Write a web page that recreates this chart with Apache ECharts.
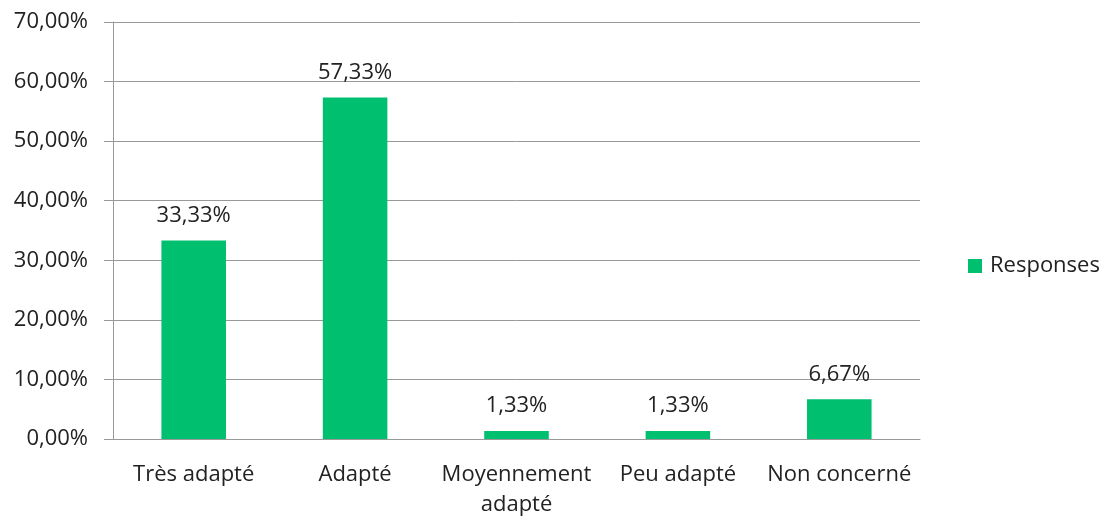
<!DOCTYPE html>
<html>
<head>
<meta charset="utf-8">
<script src="https://cdn.jsdelivr.net/npm/echarts@6/dist/echarts.min.js"></script>
<style>
html,body{margin:0;padding:0;background:#fff;}
#chart{width:1101px;height:520px;}
</style>
</head>
<body>
<div id="chart"></div>
<script>
var categories = ['Très adapté', 'Adapté', 'Moyennement adapté', 'Peu adapté', 'Non concerné'];
var responses = [33.33, 57.33, 1.33, 1.33, 6.67];
var seriesName = 'Responses';

function pct(v) {
    return v.toFixed(2).replace('.', ',') + '%';
}

(function () {
    var myChart = echarts.init(document.getElementById('chart'));
    var font = '"Open Sans", sans-serif';

    var option = {
        backgroundColor: '#fff',
        textStyle: {fontFamily: font},
        grid: {left: 113, right: 181, top: 22, bottom: 81},
        legend: {
            data: [seriesName],
            orient: 'vertical',
            left: 963,
            top: 250,
            itemWidth: 14,
            itemHeight: 14,
            icon: 'rect',
            textStyle: {fontSize: 22, color: '#222', fontFamily: font, padding: [0, 0, 0, 3]}
        },
        xAxis: {
            type: 'category',
            data: categories,
            axisLine: {lineStyle: {color: '#999'}},
            axisTick: {length: 9, lineStyle: {color: '#999'}},
            axisLabel: {
                color: '#222',
                fontSize: 22,
                margin: 21,
                lineHeight: 30,
                interval: 0,
                formatter: function (v) { return v.replace('Moyennement ', 'Moyennement\n'); }
            }
        },
        yAxis: {
            type: 'value',
            min: 0,
            max: 70,
            interval: 10,
            axisLine: {show: true, lineStyle: {color: '#999'}},
            axisTick: {show: true, length: 9, lineStyle: {color: '#999'}},
            splitLine: {lineStyle: {color: '#999'}},
            axisLabel: {
                color: '#222',
                fontSize: 22,
                margin: 25,
                formatter: function (v) { return pct(v); }
            }
        },
        series: [{
            name: seriesName,
            type: 'bar',
            data: responses,
            barWidth: '40%',
            itemStyle: {color: '#00BF6F'},
            label: {
                show: true,
                position: 'top',
                distance: 14,
                color: '#222',
                fontSize: 22,
                formatter: function (p) { return pct(p.value); }
            }
        }]
    };
    myChart.setOption(option);
})();
</script>
</body>
</html>
